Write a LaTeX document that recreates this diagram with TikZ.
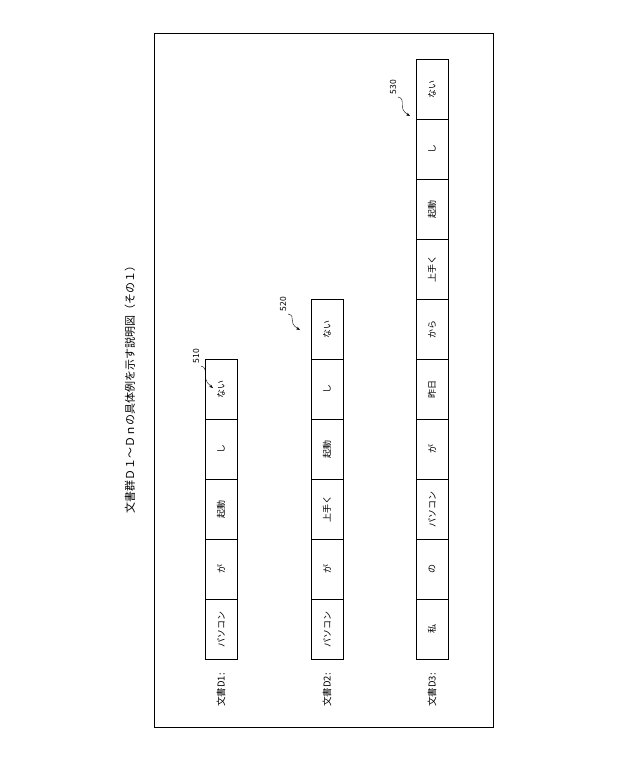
\documentclass[tikz,border=0pt]{standalone}
\usepackage{fontspec}
\newfontfamily\jp{Noto Sans CJK JP}
\usetikzlibrary{positioning,arrows.meta}
\tikzset{
  cell/.style={draw,thick,minimum width=60pt,minimum height=32pt,inner sep=0pt,rotate=90,font=\jp\fontsize{9}{9}\selectfont},
  doclabel/.style={rotate=90,font=\jp\fontsize{9.5}{9.5}\selectfont},
  reflabel/.style={rotate=90,font=\jp\fontsize{8.5}{8.5}\selectfont},
  refarrow/.style={-{Stealth[length=4pt]},thin}
}
\begin{document}
\begin{tikzpicture}[x=1pt,y=-1pt]
  \useasboundingbox (0,0) rectangle (640,768);
  % frame and title
  \draw[thick] (154,33) rectangle (493,727);
  \node[rotate=90,font=\jp\fontsize{11}{11}\selectfont] (title) at (130,387) {文書群Ｄ１～Ｄｎの具体例を示す説明図（その１）};
  % rows of words
  \foreach \w [count=\i] in {パソコン,が,起動,し,ない}
    \node[cell] (a\i) at (221,{689-60*\i}) {\w};
  \foreach \w [count=\i] in {パソコン,が,上手く,起動,し,ない}
    \node[cell] (b\i) at (327,{689-60*\i}) {\w};
  \foreach \w [count=\i] in {私,の,パソコン,が,昨日,から,上手く,起動,し,ない}
    \node[cell] (c\i) at (432,{689-60*\i}) {\w};
  % document labels
  \node[doclabel] (d1) at (221,690) {文書D1:};
  \node[doclabel] (d2) at (327,690) {文書D2:};
  \node[doclabel] (d3) at (432,690) {文書D3:};
  % reference numbers
  \node[reflabel] (r510) at (196,356) {510};
  \node[reflabel] (r520) at (283,304) {520};
  \node[reflabel] (r530) at (393,87) {530};
  \coordinate (p510) at (213,388);
  \coordinate (p520) at (300,330);
  \coordinate (p530) at (410,116);
  \draw[refarrow] ([shift={(5,10)}]r510.center) .. controls (210,368) and (200,378) .. (p510);
  \draw[refarrow] ([shift={(5,10)}]r520.center) .. controls (297,316) and (287,322) .. (p520);
  \draw[refarrow] ([shift={(5,10)}]r530.center) .. controls (407,99) and (397,108) .. (p530);
\end{tikzpicture}
\end{document}
